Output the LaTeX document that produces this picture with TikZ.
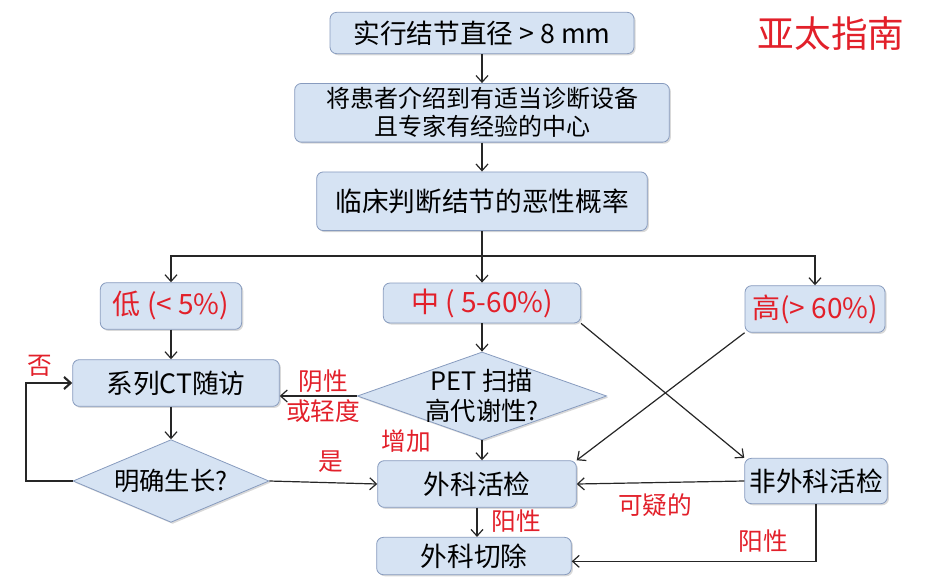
\documentclass[tikz,border=0pt]{standalone}
\usepackage{fontspec}
\setmainfont{Noto Sans CJK SC}
\usetikzlibrary{arrows.meta, positioning, shapes.geometric, shadows}

\definecolor{boxfill}{RGB}{214,227,243}
\definecolor{boxline}{RGB}{135,155,190}
\definecolor{labred}{RGB}{226,32,42}

\tikzset{
  stepbox/.style={draw=boxline, fill=boxfill, rounded corners=5pt, line width=0.6pt,
    drop shadow={shadow xshift=1.2pt, shadow yshift=-1.2pt, opacity=0.3},
    inner sep=2pt, font=\fontsize{20}{23}\selectfont, align=center},
  decide/.style={diamond, draw=boxline, fill=boxfill, line width=0.6pt, inner sep=-8pt,
    drop shadow={shadow xshift=1.2pt, shadow yshift=-1.2pt, opacity=0.3},
    font=\fontsize{19}{22}\selectfont, align=center},
  redlab/.style={text=labred, font=\fontsize{18.5}{22}\selectfont, align=center},
  flow/.style={->, line width=0.9pt, draw=black!85}
}

\begin{document}
\begin{tikzpicture}[x=0.75pt, y=-0.75pt, >={Straight Barb[length=5pt, width=9pt]}]
\useasboundingbox (0,0) rectangle (938,582);

% top chain
\node (size) [stepbox, minimum width=228pt, minimum height=31pt] at (482,33) {实行结节直径 > 8 mm};
\node (refer) [stepbox, below=21.75pt of size, minimum width=281pt, minimum height=44pt,
  font=\fontsize{18}{21}\selectfont] {将患者介绍到有适当诊断设备\\且专家有经验的中心};
\node (judge) [stepbox, below=21.75pt of refer, minimum width=248pt, minimum height=44pt] {临床判断结节的恶性概率};
\node [redlab, font=\fontsize{27.5}{30}\selectfont] at (831,34) {亚太指南};

% risk classes
\node (low) [stepbox, text=labred, font=\fontsize{21}{24}\selectfont, minimum width=106pt, minimum height=35pt] at (171,306) {低 (< 5\%)};
\node (mid) [stepbox, text=labred, font=\fontsize{21}{24}\selectfont, minimum width=148pt, minimum height=30pt] at (482,303) {中 ( 5-60\%)};
\node (high) [stepbox, text=labred, font=\fontsize{21}{24}\selectfont, minimum width=105pt, minimum height=35pt] at (815,309) {高(> 60\%)};

% follow up and tests
\node (ctscan) [stepbox, minimum width=155pt, minimum height=35pt] at (176,383) {系列CT随访};
\node (pet) [decide, aspect=2.8, minimum width=187pt, minimum height=66pt] at (482,396) {PET 扫描\\高代谢性?};
\node (growth) [decide, aspect=2.4, minimum width=147pt, minimum height=62pt] at (171,481) {明确生长?};
\node (biopsy) [stepbox, minimum width=149pt, minimum height=35pt] at (477,484) {外科活检};
\node (nonsurg) [stepbox, minimum width=107pt, minimum height=34pt] at (816,481) {非外科活检};
\node (resect) [stepbox, minimum width=146pt, minimum height=28pt] at (474,556) {外科切除};

% connectors
\draw[flow] (size) -- (refer);
\draw[flow] (refer) -- (judge);
\coordinate (bar) at (482,256);
\draw[line width=0.9pt, draw=black!85] (judge) -- (bar);
\draw[flow] (bar) -| (low);
\draw[flow] (bar) -- (mid);
\draw[flow] (bar) -| (high);

\draw[flow] (low.south) -- (low.south |- ctscan.north);
\draw[flow] (ctscan.south -| growth.north) -- (growth.north);
\draw[flow, line width=1.6pt] (growth.west) -- ++(-47,0) |- (ctscan.west);
\draw[flow] (growth.east) -- (biopsy.west);

\draw[flow] (mid) -- (pet.north);
\draw[flow] (pet.west) -- (pet.west -| ctscan.east);
\draw[flow] (pet.south) -- (pet.south |- biopsy.north);
\draw[flow] (mid.south east) -- (nonsurg.north west);
\draw[flow] (high.south west) -- (biopsy.north east);
\draw[flow] (nonsurg.west) -- (biopsy.east);
\draw[flow] (biopsy.south) -- (biopsy.south |- resect.north);
\draw[flow] (nonsurg.south) |- ([yshift=-4pt]resect.east);

% labels
\node [redlab] at (40,366) {否};
\node [redlab] at (331,462) {是};
\node [redlab] at (323,396) {阴性\\或轻度};
\node [redlab] at (406,441) {增加};
\node [redlab] at (516,521) {阳性};
\node [redlab] at (655,505) {可疑的};
\node [redlab] at (763,541) {阳性};
\end{tikzpicture}
\end{document}
